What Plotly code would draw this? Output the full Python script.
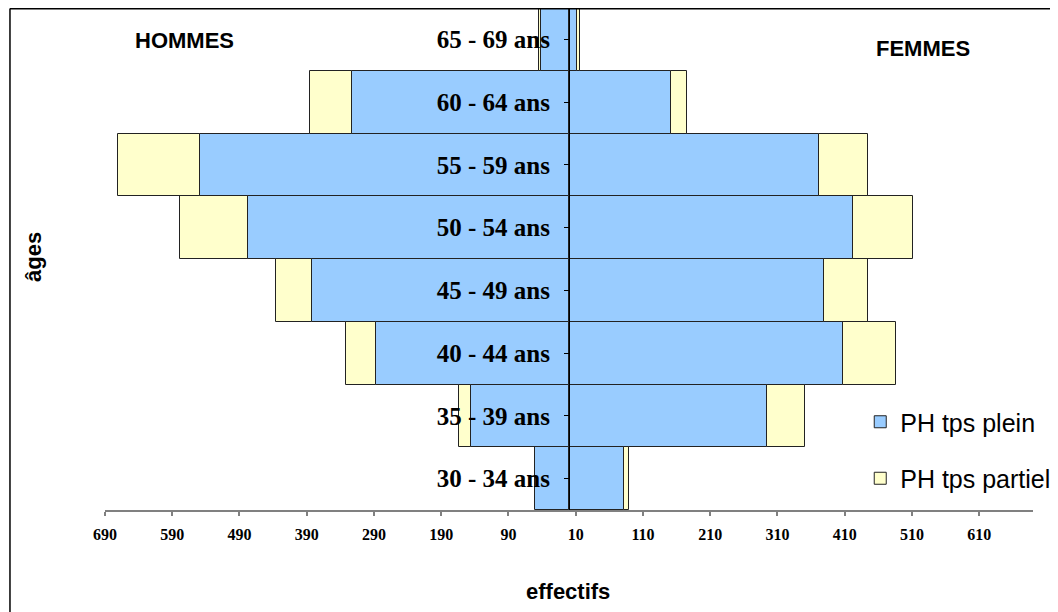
import plotly.graph_objects as go

# ---- data ----
categories = ["30 - 34 ans", "35 - 39 ans", "40 - 44 ans", "45 - 49 ans",
              "50 - 54 ans", "55 - 59 ans", "60 - 64 ans", "65 - 69 ans"]
hommes_plein = [50, 145, 287, 382, 477, 549, 322, 41]
hommes_partiel = [0, 19, 45, 54, 101, 121, 63, 4]
femmes_plein = [82, 294, 407, 379, 423, 372, 152, 12]
femmes_partiel = [7, 57, 79, 66, 89, 73, 24, 5]
tick_values = [-690, -590, -490, -390, -290, -190, -90, 10, 110, 210, 310, 410, 510, 610]
tick_labels = [str(abs(v)) for v in tick_values]

BLUE = "#99CCFF"
YELLOW = "#FFFFCC"
OUTLINE = dict(color="#222222", width=1)

fig = go.Figure()
fig.add_trace(go.Bar(y=categories, x=[-v for v in hommes_plein], orientation="h",
                     name="PH tps plein", marker=dict(color=BLUE, line=OUTLINE),
                     legendgroup="plein", showlegend=True))
fig.add_trace(go.Bar(y=categories, x=[-v for v in hommes_partiel], orientation="h",
                     name="PH tps partiel", marker=dict(color=YELLOW, line=OUTLINE),
                     legendgroup="partiel", showlegend=True))
fig.add_trace(go.Bar(y=categories, x=femmes_plein, orientation="h",
                     name="PH tps plein", marker=dict(color=BLUE, line=OUTLINE),
                     legendgroup="plein", showlegend=False))
fig.add_trace(go.Bar(y=categories, x=femmes_partiel, orientation="h",
                     name="PH tps partiel", marker=dict(color=YELLOW, line=OUTLINE),
                     legendgroup="partiel", showlegend=False))

OFF = 8  # page body margin
W, H = 1058, 612
L, R, T, B = 97, 33.3, 0, 110
pw, ph = W - L - R, H - T - B

def px(xs):
    return (xs - OFF - L) / pw

def py(ys):
    return (H - B - (ys - OFF)) / ph

def label(text, xs, ys, angle=0):
    return dict(text=text, x=px(xs), y=py(ys), xref="paper", yref="paper",
                xanchor="center", yanchor="middle", textangle=angle, showarrow=False,
                font=dict(family="Liberation Sans, Arial", size=22, color="black"))

fig.update_layout(
    width=W, height=H,
    margin=dict(l=L, r=R, t=T, b=B, pad=0),
    barmode="relative", bargap=0,
    plot_bgcolor="white", paper_bgcolor="white",
    showlegend=True,
    legend=dict(x=px(860), y=py(399), xanchor="left", yanchor="top",
                font=dict(family="Liberation Sans, Arial", size=25, color="black"),
                traceorder="grouped", tracegroupgap=21, bgcolor="rgba(0,0,0,0)"),
    xaxis=dict(range=[-690, 690], tickvals=tick_values, ticktext=tick_labels,
               showgrid=False, zeroline=False, showline=True, linecolor="#808080",
               linewidth=2, ticks="outside", ticklen=4, tickcolor="#808080", tickwidth=1.5,
               tickfont=dict(family="Liberation Serif, Times New Roman", size=16, color="black",
                             weight="bold"),
               ticklabelstandoff=5),
    yaxis=dict(type="category", anchor="free", position=0.5, showline=True,
               linecolor="black", linewidth=1, showgrid=False, zeroline=False,
               ticks="outside", ticklen=5, tickcolor="black", tickwidth=1,
               tickfont=dict(family="Liberation Serif, Times New Roman", size=25, color="black",
                             weight="bold"),
               ticklabelstandoff=9),
    annotations=[
        label("<b>HOMMES</b>", 184, 40),
        label("<b>FEMMES</b>", 923, 48),
        label("<b>effectifs</b>", 568, 591),
        label("<b>âges</b>", 33, 257, -90),
    ],
    shapes=[
        dict(type="line", xref="paper", yref="paper", x0=px(10), x1=px(1080), y0=py(8.5), y1=py(8.5),
             line=dict(color="black", width=2)),
        dict(type="line", xref="paper", yref="paper", x0=px(10), x1=px(10), y0=py(8.5), y1=py(640),
             line=dict(color="black", width=1.5)),
    ],
)

fig.write_html("out.html")
